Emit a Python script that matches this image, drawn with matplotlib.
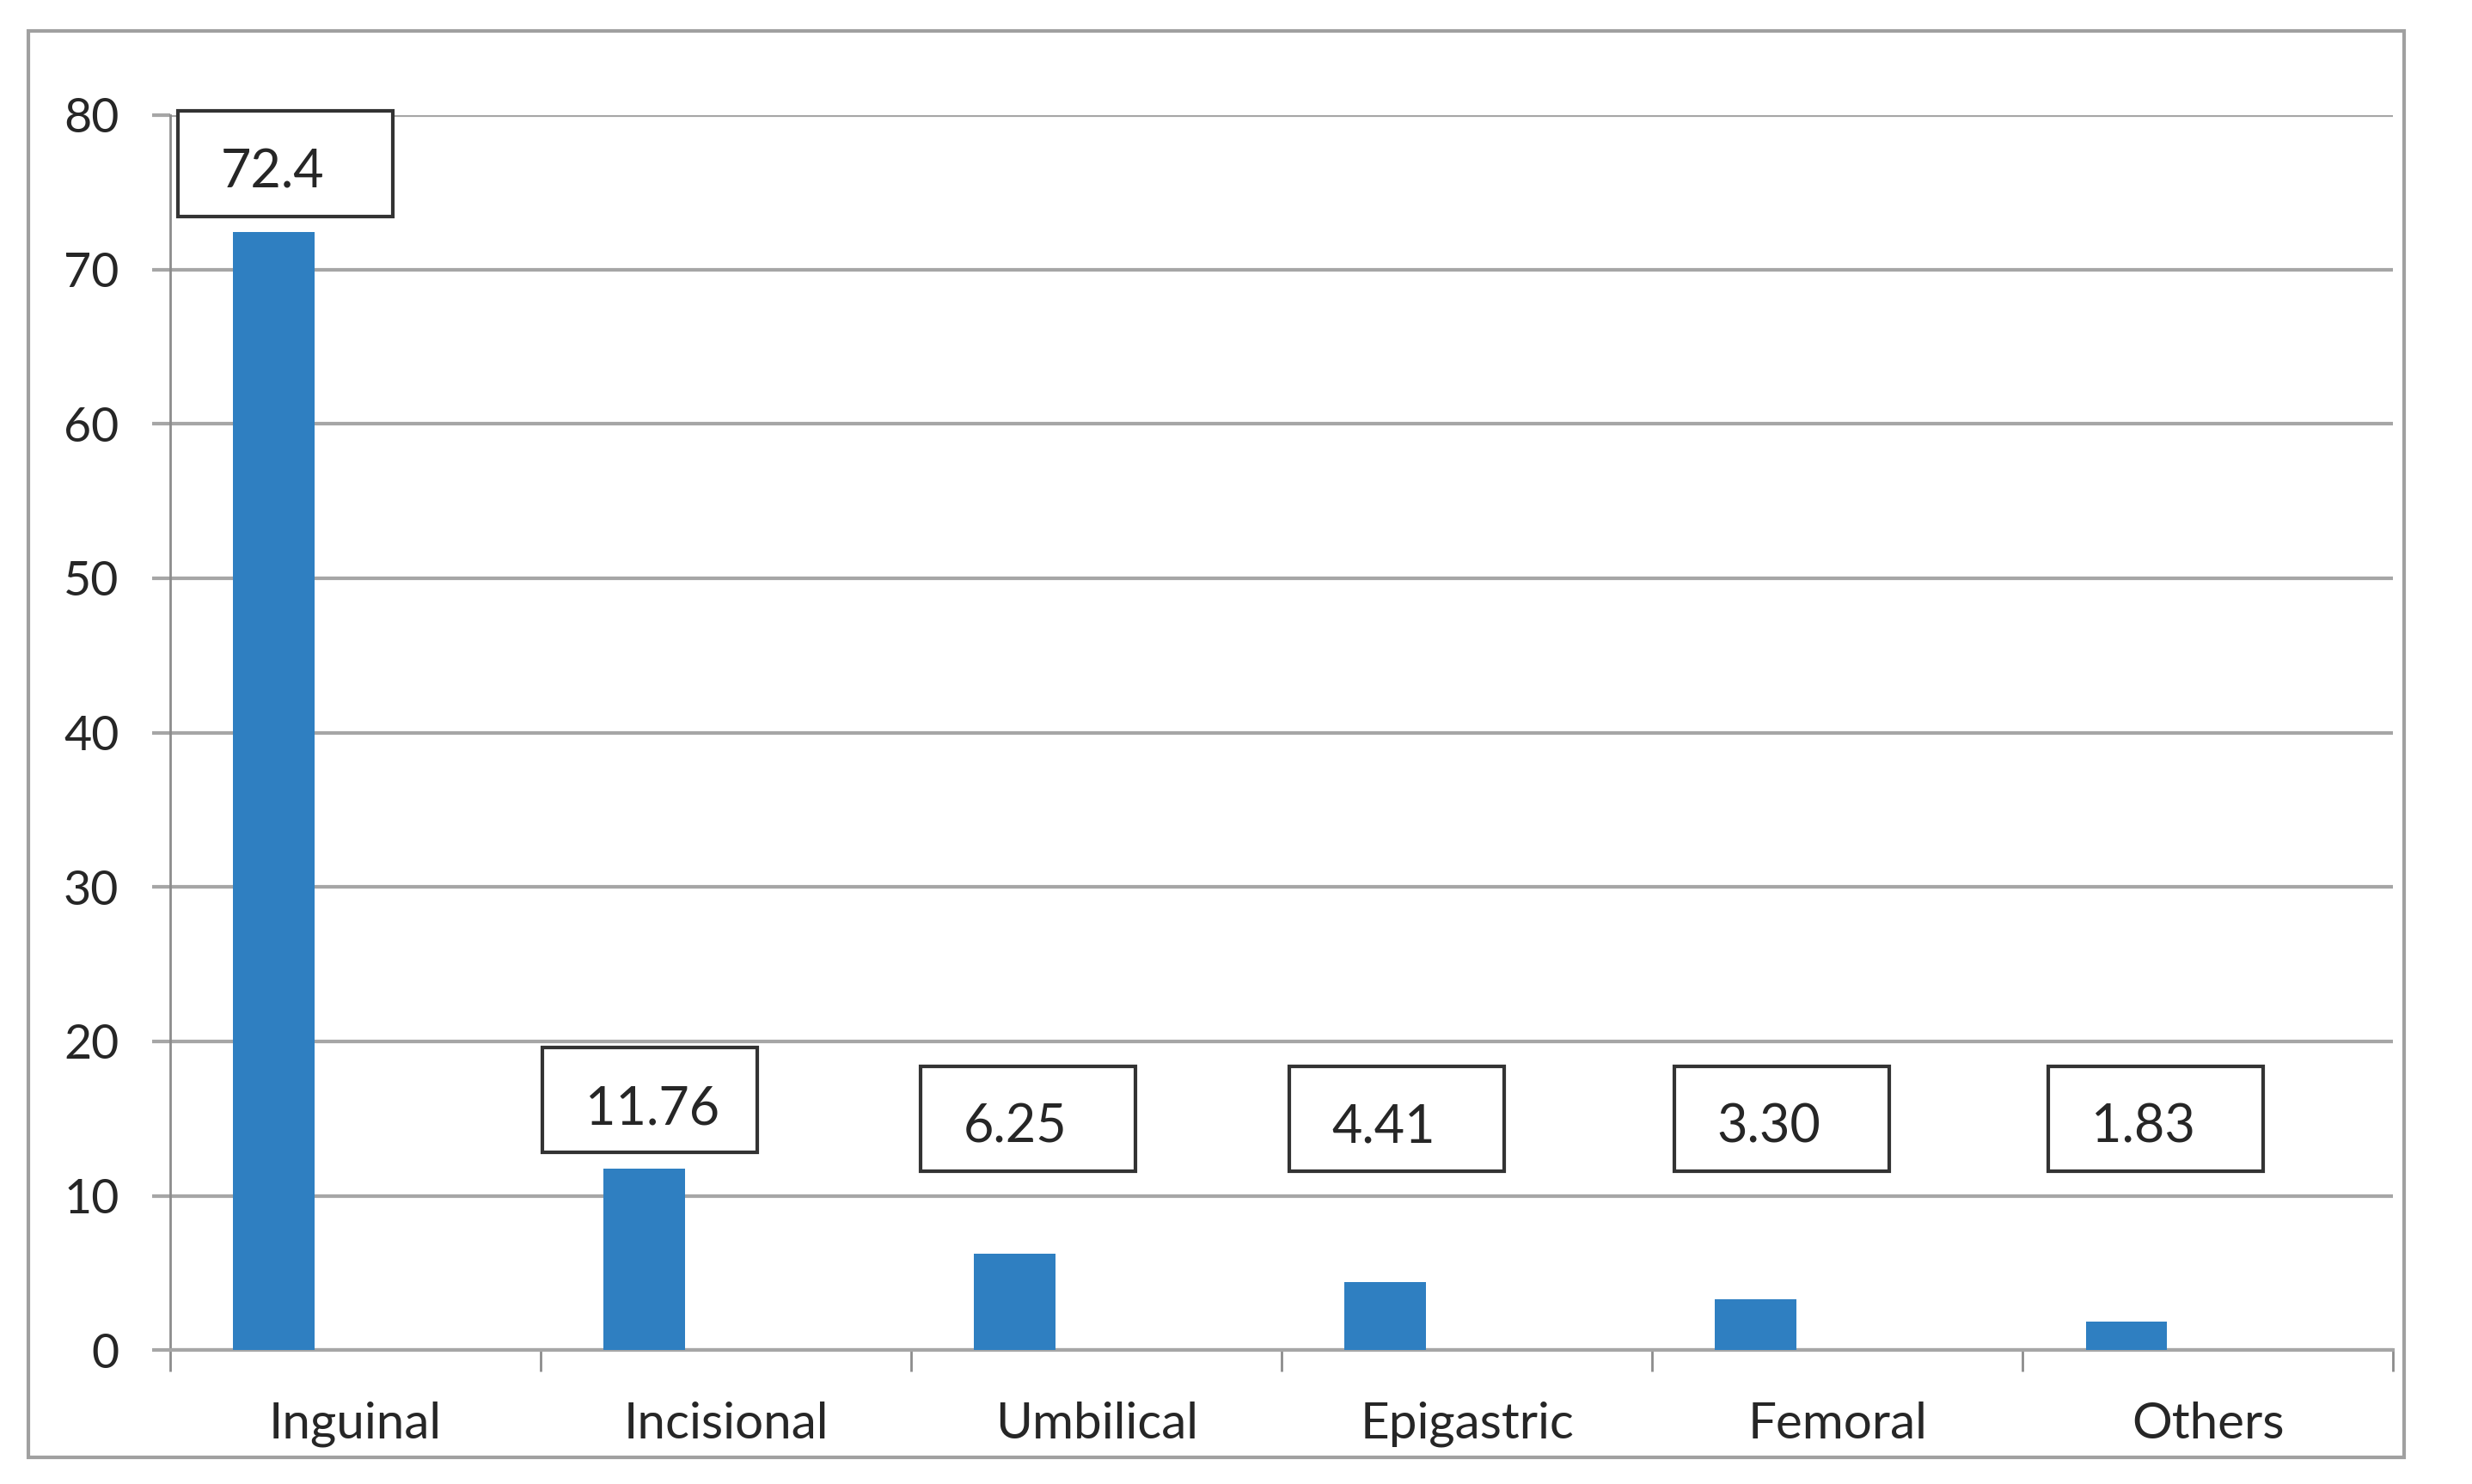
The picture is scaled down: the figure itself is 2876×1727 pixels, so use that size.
import matplotlib.pyplot as plt
from matplotlib.patches import Rectangle
import numpy as np

# Hernia types and their share (%)
categories = ['Inguinal', 'Incisional', 'Umbilical', 'Epigastric', 'Femoral', 'Others']
values = [72.4, 11.76, 6.25, 4.41, 3.30, 1.83]
labels = ['72.4', '11.76', '6.25', '4.41', '3.30', '1.83']
yticks = [0, 10, 20, 30, 40, 50, 60, 70, 80]

plt.rcParams['font.family'] = ['Lato', 'DejaVu Sans']
bar_color = '#2f7fc1'
grid_color = '#a6a6a6'
text_color = '#262626'

fig = plt.figure(figsize=(28.76, 17.27), dpi=100)
ax = fig.add_axes([0.0689, 0.0902, 0.8992, 0.8323])

x = np.arange(len(categories))
ax.bar(x - 0.22, values, width=0.22, color=bar_color, zorder=3)

ax.set_xlim(-0.5, len(categories) - 0.5)
ax.set_ylim(0, 80)
ax.set_yticks(yticks)
ax.set_yticklabels([str(t) for t in yticks])
ax.set_xticks(x)
ax.set_xticklabels(categories)
ax.set_xticks(np.arange(len(categories) + 1) - 0.5, minor=True)

ax.grid(axis='y', color=grid_color, linewidth=3, zorder=0)
ax.tick_params(axis='y', length=15, width=3, color=grid_color, pad=28,
               labelsize=40, labelcolor=text_color)
ax.tick_params(axis='x', which='major', length=0, pad=43,
               labelsize=42, labelcolor=text_color)
ax.tick_params(axis='x', which='minor', length=18, width=2, color='#8c8c8c')

for s in ['top', 'right']:
    ax.spines[s].set_visible(False)
ax.spines['left'].set_color('#8c8c8c')
ax.spines['left'].set_linewidth(2)
ax.spines['bottom'].set_color(grid_color)
ax.spines['bottom'].set_linewidth(3)

# value boxes above bars (box placement nudges as in the original)
box_w, box_h = 0.58, 6.8
box_dx = [-0.19, -0.205, -0.185, -0.19, -0.15, -0.14]
for i, (v, lab) in enumerate(zip(values, labels)):
    cx = i + box_dx[i]
    cy = max(v + 4.45, 15.0)
    left = cx - box_w / 2
    ax.add_patch(Rectangle((left, cy - box_h / 2), box_w, box_h, facecolor='white',
                           edgecolor='#333333', linewidth=3, zorder=4, clip_on=False))
    ax.text(left + 0.115, cy - 0.6, lab, ha='left', va='center', fontsize=44,
            color=text_color, zorder=5, clip_on=False)

# outer chart frame
fig.patches.append(Rectangle((0.0115, 0.018), 0.9611, 0.961, transform=fig.transFigure,
                             fill=False, edgecolor='#a0a0a0', linewidth=3))

fig.savefig('out.png', dpi=100)
